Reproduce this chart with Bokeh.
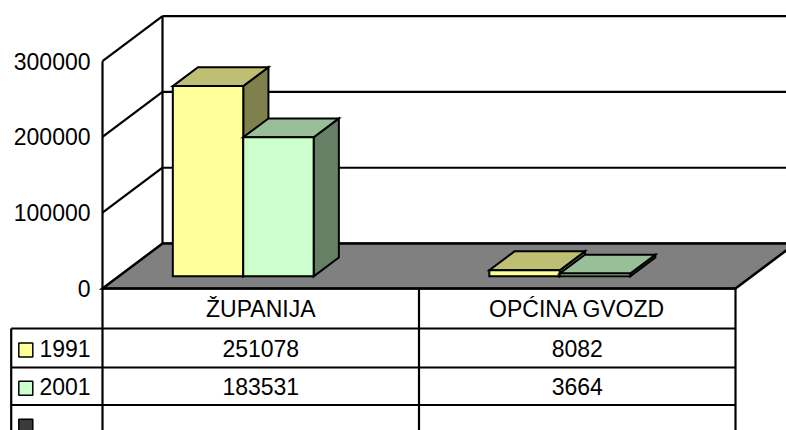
from bokeh.plotting import figure
from bokeh.models import Range1d, ColumnDataSource
from bokeh.core.properties import value
from bokeh.embed import file_html
from bokeh.resources import INLINE

# ---------------- data ----------------
categories = ["ŽUPANIJA", "OPĆINA GVOZD"]
series_names = ["1991", "2001", ""]
values_1991 = [251078, 8082]
values_2001 = [183531, 3664]
y_ticks = [0, 100000, 200000, 300000]
y_tick_labels = ["0", "100000", "200000", "300000"]

front_colors = ["#FFFF99", "#CCFFCC"]
top_colors = ["#BFBF73", "#99BF99"]
side_colors = ["#80804D", "#668066"]
swatch_colors = ["#FFFF99", "#CCFFCC", "#3A3A3A"]
floor_color = "#808080"

# ---------------- layout ----------------
W, H = 786, 430
PX_CAT = 316.5                 # pixels per category on the floor front edge
PX_VAL = 227.3 / 300000        # pixels per unit of value
ORIGIN_X = 102.0               # frame px of the category origin
ORIGIN_Y = 288.0               # frame px (from top) of value 0
DEPTH_X_PX, DEPTH_Y_PX = 60.0, 45.0
Z0, Z1 = 0.27, 0.69            # bar depth extent (fraction of floor depth)
BAR_START = 0.171              # first bar start inside category
BAR_W = 0.2225                 # bar width in categories

DX = DEPTH_X_PX / PX_CAT
DY = DEPTH_Y_PX / PX_VAL
NCAT = len(categories)
VMAX = y_ticks[-1]


def P(c, v, z):
    return c + z * DX, v + z * DY


def vpx(px_below):          # pixels below value 0 -> value units
    return -px_below / PX_VAL


def cpx(px_from_origin):    # pixels from category origin -> category units
    return px_from_origin / PX_CAT


p = figure(width=W, height=H, output_backend="svg", toolbar_location=None,
           x_axis_type=None, y_axis_type=None,
           x_range=Range1d(-ORIGIN_X / PX_CAT, (W - ORIGIN_X) / PX_CAT),
           y_range=Range1d(-(H - ORIGIN_Y) / PX_VAL, ORIGIN_Y / PX_VAL),
           min_border=0, outline_line_color=None,
           background_fill_color="white", border_fill_color="white")

# ----- walls -----
wall_xs, wall_ys = [], []
for t in y_ticks:
    a, b = P(0, t, 1), P(NCAT, t, 1)
    wall_xs.append([a[0], b[0]]); wall_ys.append([a[1], b[1]])
    if t > 0:
        a, b = P(0, t, 0), P(0, t, 1)
        wall_xs.append([a[0], b[0]]); wall_ys.append([a[1], b[1]])
for z in (0, 1):
    a, b = P(0, 0, z), P(0, VMAX, z)
    wall_xs.append([a[0], b[0]]); wall_ys.append([a[1], b[1]])
p.multi_line(wall_xs, wall_ys, line_color="black", line_width=2.2)

# ----- floor -----
fl = [P(0, 0, 0), P(NCAT, 0, 0), P(NCAT, 0, 1), P(0, 0, 1)]
p.patch([q[0] for q in fl], [q[1] for q in fl], fill_color=floor_color,
        line_color="black", line_width=2.5, line_join="miter")

# ----- table lines -----
leg_left = cpx(10.7 - 102)
row_lines = [40, 79, 116.5, 155]
bottom = vpx(200)
t_xs, t_ys = [], []
for c in range(NCAT + 1):
    t_xs.append([c, c]); t_ys.append([0, bottom])
t_xs.append([leg_left, leg_left]); t_ys.append([vpx(row_lines[0]), bottom])
for r in row_lines:
    t_xs.append([leg_left, NCAT]); t_ys.append([vpx(r), vpx(r)])
t_xs.append([0, NCAT]); t_ys.append([0, 0])
p.multi_line(t_xs, t_ys, line_color="black", line_width=2.2)

# ----- bars -----
series_vals = [values_1991, values_2001]
bx, by, bc = [], [], []
for i in range(NCAT):
    for s, vals in enumerate(series_vals):
        v = vals[i]
        c0 = i + BAR_START + s * BAR_W
        c1 = c0 + BAR_W
        side = [P(c1, 0, Z0), P(c1, 0, Z1), P(c1, v, Z1), P(c1, v, Z0)]
        top = [P(c0, v, Z0), P(c1, v, Z0), P(c1, v, Z1), P(c0, v, Z1)]
        front = [P(c0, 0, Z0), P(c1, 0, Z0), P(c1, v, Z0), P(c0, v, Z0)]
        for poly, col in ((side, side_colors[s]), (top, top_colors[s]), (front, front_colors[s])):
            bx.append([q[0] for q in poly]); by.append([q[1] for q in poly]); bc.append(col)
p.patches(source=ColumnDataSource(dict(xs=bx, ys=by, c=bc)), xs="xs", ys="ys",
          fill_color="c", line_color="black", line_width=2, line_join="miter")

FONT = value("Liberation Sans")
FS = "23px"

# ----- value axis labels -----
p.text(x=[cpx(-12)] * len(y_ticks), y=y_ticks, text=y_tick_labels,
       text_align="right", text_baseline="middle", text_font=FONT,
       text_font_size=FS, text_color="black")

# ----- table texts -----
row_mid = [vpx((row_lines[k] + row_lines[k + 1]) / 2) for k in range(3)]
p.text(x=[i + 0.5 for i in range(NCAT)], y=[vpx(row_lines[0] / 2)] * NCAT,
       text=categories, text_align="center", text_baseline="middle",
       text_font=FONT, text_font_size=FS, text_color="black")
cells_x, cells_y, cells_t = [], [], []
for s, vals in enumerate(series_vals):
    for i in range(NCAT):
        cells_x.append(i + 0.5); cells_y.append(row_mid[s]); cells_t.append(str(vals[i]))
p.text(x=cells_x, y=cells_y, text=cells_t, text_align="center",
       text_baseline="middle", text_font=FONT, text_font_size=FS, text_color="black")

p.scatter(x=[cpx(25.3 - 102)] * 3, y=[r + vpx(2) for r in row_mid], marker="square",
          size=14, fill_color=swatch_colors, line_color="black", line_width=1.5)
p.text(x=[cpx(39 - 102)] * 3, y=row_mid, text=series_names, text_align="left",
       text_baseline="middle", text_font=FONT, text_font_size=FS, text_color="black")

open("out.html", "w").write(file_html(p, INLINE))
